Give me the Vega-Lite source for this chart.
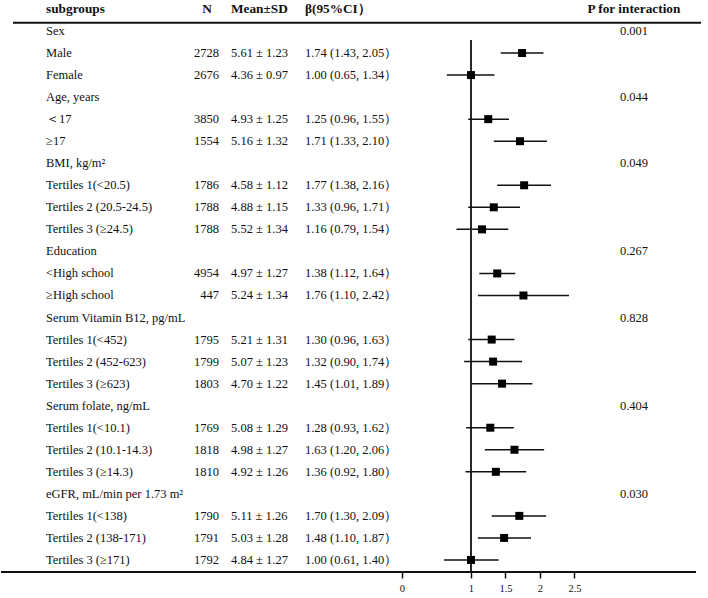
{
  "$schema": "https://vega.github.io/schema/vega-lite/v6.json",
  "width": 708,
  "height": 572,
  "padding": 0,
  "autosize": {"type": "pad"},
  "background": "white",
  "config": {"view": {"stroke": null}, "text": {"font": "Liberation Serif", "fontSize": 12.5, "color": "#111"}},
  "datasets": {
    "rows": [
      {"row": 1, "label": "Sex", "p": "0.001"},
      {"row": 2, "label": "Male", "n": "2728", "mean": "5.61 ± 1.23", "beta": "1.74 (1.43, 2.05）", "est": 1.74, "lo": 1.43, "hi": 2.05},
      {"row": 3, "label": "Female", "n": "2676", "mean": "4.36 ± 0.97", "beta": "1.00 (0.65, 1.34）", "est": 1.00, "lo": 0.65, "hi": 1.34},
      {"row": 4, "label": "Age, years", "p": "0.044"},
      {"row": 5, "label": "＜17", "n": "3850", "mean": "4.93 ± 1.25", "beta": "1.25 (0.96, 1.55）", "est": 1.25, "lo": 0.96, "hi": 1.55},
      {"row": 6, "label": "≥17", "n": "1554", "mean": "5.16 ± 1.32", "beta": "1.71 (1.33, 2.10）", "est": 1.71, "lo": 1.33, "hi": 2.10},
      {"row": 7, "label": " BMI, kg/m²", "p": "0.049"},
      {"row": 8, "label": "Tertiles 1(<20.5)", "n": "1786", "mean": "4.58 ± 1.12", "beta": "1.77 (1.38, 2.16）", "est": 1.77, "lo": 1.38, "hi": 2.16},
      {"row": 9, "label": "Tertiles 2 (20.5-24.5)", "n": "1788", "mean": "4.88 ± 1.15", "beta": "1.33 (0.96, 1.71）", "est": 1.33, "lo": 0.96, "hi": 1.71},
      {"row": 10, "label": "Tertiles 3 (≥24.5)", "n": "1788", "mean": "5.52 ± 1.34", "beta": "1.16 (0.79, 1.54）", "est": 1.16, "lo": 0.79, "hi": 1.54},
      {"row": 11, "label": "Education", "p": "0.267"},
      {"row": 12, "label": "<High school", "n": "4954", "mean": "4.97 ± 1.27", "beta": "1.38 (1.12, 1.64）", "est": 1.38, "lo": 1.12, "hi": 1.64},
      {"row": 13, "label": "≥High school", "n": "447", "mean": "5.24 ± 1.34", "beta": "1.76 (1.10, 2.42）", "est": 1.76, "lo": 1.10, "hi": 2.42},
      {"row": 14, "label": "Serum Vitamin B12, pg/mL", "p": "0.828"},
      {"row": 15, "label": "Tertiles 1(<452)", "n": "1795", "mean": "5.21 ± 1.31", "beta": "1.30 (0.96, 1.63）", "est": 1.30, "lo": 0.96, "hi": 1.63},
      {"row": 16, "label": "Tertiles 2 (452-623)", "n": "1799", "mean": "5.07 ± 1.23", "beta": "1.32 (0.90, 1.74）", "est": 1.32, "lo": 0.90, "hi": 1.74},
      {"row": 17, "label": "Tertiles 3 (≥623)", "n": "1803", "mean": "4.70 ± 1.22", "beta": "1.45 (1.01, 1.89）", "est": 1.45, "lo": 1.01, "hi": 1.89},
      {"row": 18, "label": "Serum folate, ng/mL", "p": "0.404"},
      {"row": 19, "label": "Tertiles 1(<10.1)", "n": "1769", "mean": "5.08 ± 1.29", "beta": "1.28 (0.93, 1.62）", "est": 1.28, "lo": 0.93, "hi": 1.62},
      {"row": 20, "label": "Tertiles 2 (10.1-14.3)", "n": "1818", "mean": "4.98 ± 1.27", "beta": "1.63 (1.20, 2.06）", "est": 1.63, "lo": 1.20, "hi": 2.06},
      {"row": 21, "label": "Tertiles 3 (≥14.3)", "n": "1810", "mean": "4.92 ± 1.26", "beta": "1.36 (0.92, 1.80）", "est": 1.36, "lo": 0.92, "hi": 1.80},
      {"row": 22, "label": "eGFR, mL/min per 1.73 m²", "p": "0.030"},
      {"row": 23, "label": "Tertiles 1(<138)", "n": "1790", "mean": "5.11 ± 1.26", "beta": "1.70 (1.30, 2.09）", "est": 1.70, "lo": 1.30, "hi": 2.09},
      {"row": 24, "label": "Tertiles 2 (138-171)", "n": "1791", "mean": "5.03 ± 1.28", "beta": "1.48 (1.10, 1.87）", "est": 1.48, "lo": 1.10, "hi": 1.87},
      {"row": 25, "label": "Tertiles 3 (≥171)", "n": "1792", "mean": "4.84 ± 1.27", "beta": "1.00 (0.61, 1.40）", "est": 1.00, "lo": 0.61, "hi": 1.40}
    ],
    "header": [
      {"row": 0, "label": "subgroups", "n": "N", "mean": "Mean±SD", "beta": "β(95%CI）", "p": "P for interaction"}
    ]
  },
  "encoding": {
    "y": {"type": "quantitative", "scale": {"domain": [-0.4065, 25.546], "reverse": true, "nice": false, "zero": false}, "axis": null}
  },
  "layer": [
    {
      "data": {"values": [{}]},
      "mark": {"type": "rule", "stroke": "#111", "strokeWidth": 2},
      "encoding": {
        "x": {"datum": -5.638, "type": "quantitative", "scale": {"domain": [-5.8116, 4.4493], "nice": false, "zero": false}, "axis": {"values": [0, 1, 1.5, 2, 2.5], "format": "~g", "domain": false, "grid": false, "title": null, "tickSize": 6, "tickWidth": 1.5, "tickColor": "#111", "labelFont": "Liberation Serif", "labelFontSize": 10.5, "labelColor": "#111", "labelPadding": 5, "labelFlush": false}},
        "x2": {"datum": 4.333},
        "y": {"datum": 0.623}
      }
    },
    {
      "data": {"values": [{}]},
      "mark": {"type": "rule", "stroke": "#111", "strokeWidth": 2},
      "encoding": {
        "x": {"datum": -5.8116, "type": "quantitative"},
        "x2": {"datum": 4.261},
        "y": {"datum": 25.546}
      }
    },
    {
      "data": {"values": [{}]},
      "mark": {"type": "rule", "stroke": "#111", "strokeWidth": 1.8},
      "encoding": {
        "x": {"datum": 1, "type": "quantitative"},
        "y": {"datum": 1.408},
        "y2": {"datum": 25.546}
      }
    },
    {
      "data": {"name": "rows"},
      "transform": [{"filter": "datum.est != null"}],
      "mark": {"type": "rule", "stroke": "#111", "strokeWidth": 1.5},
      "encoding": {
        "x": {"field": "lo", "type": "quantitative"},
        "x2": {"field": "hi"},
        "y": {"field": "row", "type": "quantitative"}
      }
    },
    {
      "data": {"name": "rows"},
      "transform": [{"filter": "datum.est != null"}],
      "mark": {"type": "square", "filled": true, "color": "#000", "size": 64, "opacity": 1},
      "encoding": {
        "x": {"field": "est", "type": "quantitative"},
        "y": {"field": "row", "type": "quantitative"}
      }
    },
    {
      "data": {"name": "rows"},
      "mark": {"type": "text", "align": "left", "baseline": "middle"},
      "encoding": {
        "x": {"datum": -5.159, "type": "quantitative"},
        "y": {"field": "row", "type": "quantitative"},
        "text": {"field": "label", "type": "nominal"}
      }
    },
    {
      "data": {"name": "rows"},
      "transform": [{"filter": "datum.n != null"}],
      "mark": {"type": "text", "align": "right", "baseline": "middle"},
      "encoding": {
        "x": {"datum": -2.652, "type": "quantitative"},
        "y": {"field": "row", "type": "quantitative"},
        "text": {"field": "n", "type": "nominal"}
      }
    },
    {
      "data": {"name": "rows"},
      "transform": [{"filter": "datum.mean != null"}],
      "mark": {"type": "text", "align": "left", "baseline": "middle"},
      "encoding": {
        "x": {"datum": -2.478, "type": "quantitative"},
        "y": {"field": "row", "type": "quantitative"},
        "text": {"field": "mean", "type": "nominal"}
      }
    },
    {
      "data": {"name": "rows"},
      "transform": [{"filter": "datum.beta != null"}],
      "mark": {"type": "text", "align": "left", "baseline": "middle"},
      "encoding": {
        "x": {"datum": -1.406, "type": "quantitative"},
        "y": {"field": "row", "type": "quantitative"},
        "text": {"field": "beta", "type": "nominal"}
      }
    },
    {
      "data": {"name": "rows"},
      "transform": [{"filter": "datum.p != null"}],
      "mark": {"type": "text", "align": "center", "baseline": "middle"},
      "encoding": {
        "x": {"datum": 3.362, "type": "quantitative"},
        "y": {"field": "row", "type": "quantitative"},
        "text": {"field": "p", "type": "nominal"}
      }
    },
    {
      "data": {"name": "header"},
      "mark": {"type": "text", "align": "left", "baseline": "middle", "fontWeight": "bold", "fontSize": 13.3},
      "encoding": {
        "x": {"datum": -5.159, "type": "quantitative"},
        "y": {"field": "row", "type": "quantitative"},
        "text": {"field": "label", "type": "nominal"}
      }
    },
    {
      "data": {"name": "header"},
      "mark": {"type": "text", "align": "center", "baseline": "middle", "fontWeight": "bold", "fontSize": 13.3},
      "encoding": {
        "x": {"datum": -2.826, "type": "quantitative"},
        "y": {"field": "row", "type": "quantitative"},
        "text": {"field": "n", "type": "nominal"}
      }
    },
    {
      "data": {"name": "header"},
      "mark": {"type": "text", "align": "left", "baseline": "middle", "fontWeight": "bold", "fontSize": 13.3},
      "encoding": {
        "x": {"datum": -2.478, "type": "quantitative"},
        "y": {"field": "row", "type": "quantitative"},
        "text": {"field": "mean", "type": "nominal"}
      }
    },
    {
      "data": {"name": "header"},
      "mark": {"type": "text", "align": "left", "baseline": "middle", "fontWeight": "bold", "fontSize": 13.3},
      "encoding": {
        "x": {"datum": -1.406, "type": "quantitative"},
        "y": {"field": "row", "type": "quantitative"},
        "text": {"field": "beta", "type": "nominal"}
      }
    },
    {
      "data": {"name": "header"},
      "mark": {"type": "text", "align": "center", "baseline": "middle", "fontWeight": "bold", "fontSize": 13.3},
      "encoding": {
        "x": {"datum": 3.362, "type": "quantitative"},
        "y": {"field": "row", "type": "quantitative"},
        "text": {"field": "p", "type": "nominal"}
      }
    }
  ]
}
